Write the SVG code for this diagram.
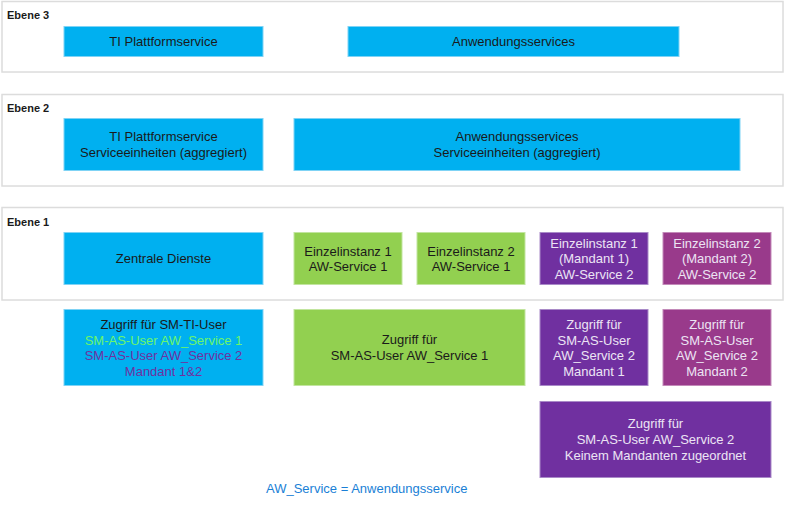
<svg xmlns="http://www.w3.org/2000/svg" width="785" height="506" viewBox="0 0 785 506">
<style>
text{font-family:"Liberation Sans",Arial,sans-serif;font-size:13px;text-anchor:middle;fill:#1a1a1a}
.lvl{fill:#fff;stroke:#dcdcdc;stroke-width:1.5}
.lbl{font-size:11px;font-weight:bold;text-anchor:start}
.b{fill:#00b0f0;stroke:#7fd3f5;stroke-width:1}
.g{fill:#92d050;stroke:#c2e59f;stroke-width:1}
.p{fill:#7030a0;stroke:#a98ac8;stroke-width:1}
.m{fill:#993a8b;stroke:#c38ab9;stroke-width:1}
.w{fill:#ece4f4}
</style>
<g id="ebene3"><rect class="lvl" x="2" y="1.5" width="781" height="70.5"/><text class="lbl" x="7" y="19">Ebene 3</text></g>
<g id="ebene2"><rect class="lvl" x="2" y="94.5" width="781" height="91.5"/><text class="lbl" x="7" y="112">Ebene 2</text></g>
<g id="ebene1"><rect class="lvl" x="2" y="207.5" width="781" height="92.5"/><text class="lbl" x="7" y="226">Ebene 1</text></g>
<g id="e3-ti"><rect class="b" x="64" y="26.5" width="199" height="30"/><text x="163.5" y="46">TI Plattformservice</text></g>
<g id="e3-aw"><rect class="b" x="348" y="26.5" width="331" height="30"/><text x="513.5" y="46">Anwendungsservices</text></g>
<g id="e2-ti"><rect class="b" x="64" y="118.5" width="199" height="52"/><text x="163.5" y="141">TI Plattformservice</text><text x="163.5" y="157">Serviceeinheiten (aggregiert)</text></g>
<g id="e2-aw"><rect class="b" x="294" y="118.5" width="446" height="52"/><text x="517" y="141">Anwendungsservices</text><text x="517" y="157">Serviceeinheiten (aggregiert)</text></g>
<g id="e1-zd"><rect class="b" x="64" y="232.5" width="199" height="52"/><text x="163.5" y="262.5">Zentrale Dienste</text></g>
<g id="e1-ei1"><rect class="g" x="294" y="232.5" width="108" height="52"/><text x="348" y="255.5">Einzelinstanz 1</text><text x="348" y="271">AW-Service 1</text></g>
<g id="e1-ei2"><rect class="g" x="417" y="232.5" width="108" height="52"/><text x="471" y="255.5">Einzelinstanz 2</text><text x="471" y="271">AW-Service 1</text></g>
<g id="e1-ei1m"><rect class="p" x="540" y="232.5" width="108" height="52"/><text class="w" x="594" y="247.5">Einzelinstanz 1</text><text class="w" x="594" y="263">(Mandant 1)</text><text class="w" x="594" y="278.5">AW-Service 2</text></g>
<g id="e1-ei2m"><rect class="m" x="663" y="232.5" width="108" height="52"/><text class="w" x="717" y="247.5">Einzelinstanz 2</text><text class="w" x="717" y="263">(Mandant 2)</text><text class="w" x="717" y="278.5">AW-Service 2</text></g>
<g id="z-ti"><rect class="b" x="64" y="309.5" width="199" height="76"/><text x="163.5" y="328.5">Zugriff für SM-TI-User</text><text x="163.5" y="344.5" style="fill:#6cf56a">SM-AS-User AW_Service 1</text><text x="163.5" y="360" style="fill:#7030a0">SM-AS-User AW_Service 2</text><text x="163.5" y="375.5" style="fill:#7030a0">Mandant 1&amp;2</text></g>
<g id="z-aw1"><rect class="g" x="294" y="309.5" width="231" height="76"/><text x="409.5" y="344">Zugriff für</text><text x="409.5" y="359.5">SM-AS-User AW_Service 1</text></g>
<g id="z-aw2m1"><rect class="p" x="540" y="309.5" width="108" height="76"/><text class="w" x="594" y="328.5">Zugriff für</text><text class="w" x="594" y="344.5">SM-AS-User</text><text class="w" x="594" y="360">AW_Service 2</text><text class="w" x="594" y="375.5">Mandant 1</text></g>
<g id="z-aw2m2"><rect class="m" x="663" y="309.5" width="108" height="76"/><text class="w" x="717" y="328.5">Zugriff für</text><text class="w" x="717" y="344.5">SM-AS-User</text><text class="w" x="717" y="360">AW_Service 2</text><text class="w" x="717" y="375.5">Mandant 2</text></g>
<g id="z-aw2none"><rect class="p" x="540" y="401.5" width="231" height="76"/><text class="w" x="655.5" y="427.5">Zugriff für</text><text class="w" x="655.5" y="444">SM-AS-User AW_Service 2</text><text class="w" x="655.5" y="460">Keinem Mandanten zugeordnet</text></g>
<g id="legend"><text x="266" y="492.5" style="text-anchor:start;fill:#1a7fd6">AW_Service = Anwendungsservice</text></g>
<g id="connectors"></g>
</svg>
